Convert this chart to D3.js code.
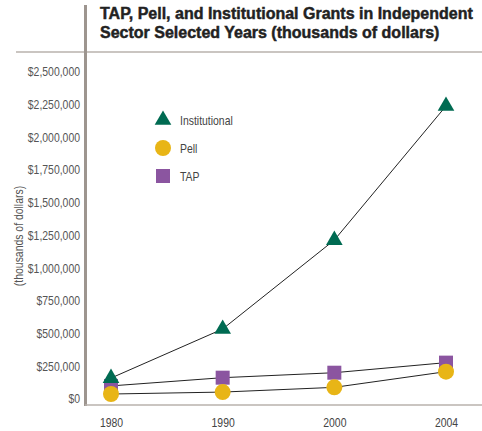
<!DOCTYPE html>
<html><head><meta charset="utf-8">
<script src="https://cdnjs.cloudflare.com/ajax/libs/d3/7.8.5/d3.min.js"></script>
<style>body{margin:0;background:#fff}svg{display:block}</style>
</head><body>
<script>
const years = ["1980","1990","2000","2004"];
const institutional = [160000, 535000, 1215000, 2240000];
const pell = [38000, 53000, 89000, 209000];
const tap = [100000, 163000, 201000, 278000];
const yTicks = [0,250000,500000,750000,1000000,1250000,1500000,1750000,2000000,2250000,2500000];
const titleLines = ["TAP, Pell, and Institutional Grants in Independent","Sector Selected Years (thousands of dollars)"];
const yTitle = "(thousands of dollars)";
const seriesNames = ["Institutional","Pell","TAP"];

const W=482,H=431;
const svg=d3.select("body").append("svg").attr("width",W).attr("height",H);
const x=d3.scalePoint().domain(years).range([111,446]);
const y=d3.scaleLinear().domain([0,2500000]).range([399,72]);
const sans="'Liberation Sans',Arial,sans-serif";
const squeeze="scale(0.87,1)";
const axisCol="#9d958f";

// frame lines
svg.append("line").attr("x1",16).attr("x2",W).attr("y1",52).attr("y2",52).attr("stroke","#b9b2ad").attr("stroke-width",1.5);
svg.append("line").attr("x1",85.5).attr("x2",85.5).attr("y1",5).attr("y2",406).attr("stroke",axisCol).attr("stroke-width",3);
svg.append("line").attr("x1",85).attr("x2",W).attr("y1",405).attr("y2",405).attr("stroke","#b9b2ad").attr("stroke-width",1.5);

// title
svg.append("g").selectAll("text").data(titleLines).join("text")
  .attr("x",100).attr("y",(d,i)=>19+i*18.5)
  .attr("font-family",sans).attr("font-weight","bold")
  .attr("font-size",16).attr("fill","#222").attr("stroke","#222").attr("stroke-width",0.45).text(d=>d);

// y axis
const ya=d3.axisLeft(y).tickValues(yTicks).tickSize(0).tickPadding(0)
  .tickFormat(d=>"$"+d3.format(",")(d));
const gy=svg.append("g").attr("transform","translate(80,0)").call(ya);
gy.select(".domain").remove();
gy.selectAll("text").attr("font-family",sans).attr("font-size",12).attr("fill","#555").attr("transform",squeeze);

// x axis
const xa=d3.axisBottom(x).tickSize(0).tickPadding(0);
const gx=svg.append("g").attr("transform","translate(0,418)").call(xa);
gx.select(".domain").remove();
gx.selectAll("text").attr("font-family",sans).attr("font-size",12).attr("fill","#444").attr("transform",squeeze);

// y title
svg.append("text").attr("transform","translate(23,236) rotate(-90) scale(0.87,1)").attr("text-anchor","middle")
  .attr("font-family",sans).attr("font-size",12).attr("fill","#555").text(yTitle);

const line=d3.line().x((d,i)=>x(years[i])).y(d=>y(d));
const data=[institutional,pell,tap];
svg.append("g").selectAll("path").data(data).join("path")
  .attr("d",line).attr("fill","none").attr("stroke","#222").attr("stroke-width",1);

const green="#006b52", yellow="#e8b516", purple="#8b55a0";
const tri=d3.symbol().type(d3.symbolTriangle).size(120);
// TAP squares
svg.append("g").selectAll("rect").data(tap).join("rect")
  .attr("x",(d,i)=>x(years[i])-7).attr("y",d=>y(d)-7).attr("width",14).attr("height",14).attr("fill",purple);
// Institutional triangles
svg.append("g").selectAll("path").data(institutional).join("path")
  .attr("d",tri).attr("transform",(d,i)=>`translate(${x(years[i])},${y(d)})`).attr("fill",green);
// Pell circles
svg.append("g").selectAll("circle").data(pell).join("circle")
  .attr("cx",(d,i)=>x(years[i])).attr("cy",d=>y(d)).attr("r",8).attr("fill",yellow);

// legend
const lg=svg.append("g").attr("transform","translate(163,120)");
lg.append("path").attr("d",tri).attr("fill",green);
lg.append("circle").attr("cy",28).attr("r",8).attr("fill",yellow);
lg.append("rect").attr("x",-7).attr("y",56-7).attr("width",14).attr("height",14).attr("fill",purple);
lg.selectAll("g").data(seriesNames).join("g")
  .attr("transform",(d,i)=>`translate(17,${i*28+4.5})`)
  .append("text").attr("transform",squeeze).attr("font-family",sans).attr("font-size",12).attr("fill","#444").text(d=>d);
</script>
</body></html>
